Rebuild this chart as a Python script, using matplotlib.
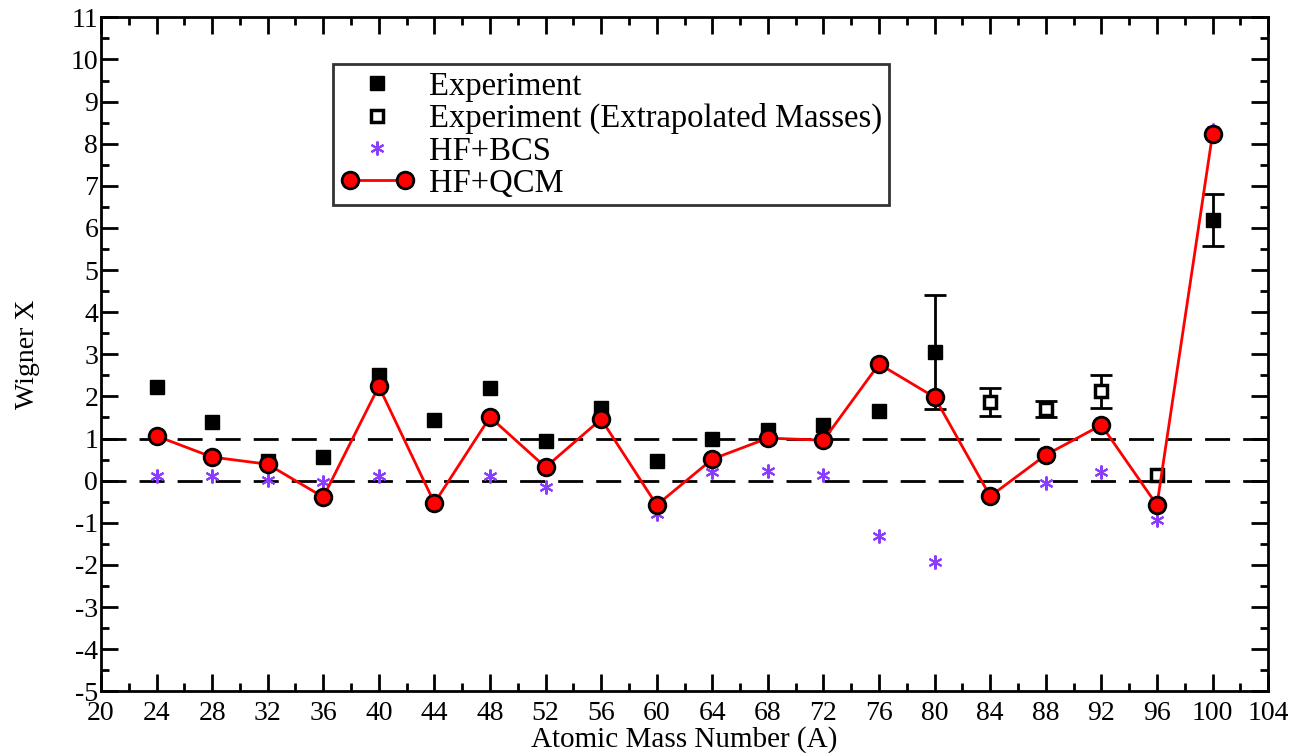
import numpy as np
import matplotlib.pyplot as plt
from matplotlib.legend_handler import HandlerLine2D

plt.rcParams['font.family'] = ['Liberation Serif', 'DejaVu Serif']
plt.rcParams['axes.unicode_minus'] = False

# data
A_exp = [24, 28, 32, 36, 40, 44, 48, 52, 56, 60, 64, 68, 72, 76, 80, 100]
X_exp = [2.22, 1.39, 0.46, 0.56, 2.51, 1.44, 2.20, 0.94, 1.72, 0.46, 0.99, 1.20, 1.32, 1.65, 3.05, 6.19]

# only the points that carry visible error bars
A_err = [80, 100]
X_err = [3.05, 6.19]
err_exp = [1.35, 0.62]

A_ext = [84, 88, 92, 96]
X_ext = [1.87, 1.70, 2.12, 0.13]
err_ext = [0.33, 0.20, 0.40]

A_th = [24, 28, 32, 36, 40, 44, 48, 52, 56, 60, 64, 68, 72, 76, 80, 84, 88, 92, 96, 100]
X_bcs = [0.10, 0.10, 0.01, -0.04, 0.10, -0.55, 0.10, -0.15, 1.50, -0.80, 0.20, 0.22, 0.13,
         -1.32, -1.94, -0.40, -0.06, 0.20, -0.94, 8.33]
X_qcm = [1.06, 0.56, 0.39, -0.39, 2.24, -0.53, 1.51, 0.32, 1.46, -0.58, 0.51, 1.01, 0.96,
         2.77, 1.98, -0.37, 0.61, 1.32, -0.58, 8.23]

fig = plt.figure(figsize=(12.94, 7.53), dpi=100)
ax = fig.add_axes([0.078, 0.082, 0.902, 0.895])

ax.axhline(0, color='black', lw=2, ls=(0, (9, 4.7)), zorder=1)
ax.axhline(1, color='black', lw=2, ls=(0, (9, 4.7)), zorder=1)

ax.errorbar(A_err, X_err, yerr=err_exp, fmt='none', ecolor='black', elinewidth=2,
            capsize=8, capthick=2, zorder=2)
ax.errorbar(A_ext[:3], X_ext[:3], yerr=err_ext, fmt='none', ecolor='black', elinewidth=2,
            capsize=8, capthick=2, zorder=2)

l_exp, = ax.plot(A_exp, X_exp, 's', color='black', ms=10, ls='none', zorder=3,
                 label='Experiment')
l_ext, = ax.plot(A_ext, X_ext, 's', mfc='white', mec='black', mew=2.5, ms=9, ls='none',
                 zorder=3, label='Experiment (Extrapolated Masses)')
l_bcs, = ax.plot(A_th, X_bcs, marker=(6, 2, 0), color='#8a3cff', ms=10, mew=1.5,
                 ls='none', zorder=3, label='HF+BCS')
l_qcm, = ax.plot(A_th, X_qcm, '-o', color='red', lw=2, mfc='red', mec='black', mew=2,
                 ms=12, zorder=4, label='HF+QCM')

ax.set_xlim(20, 104)
ax.set_ylim(-5, 11)
ax.set_xticks(np.arange(20, 105, 4))
ax.set_xticks(np.arange(20, 105, 2), minor=True)
ax.set_yticks(np.arange(-5, 12, 1))
ax.set_yticks(np.arange(-5, 11.1, 0.5), minor=True)
ax.tick_params(which='both', direction='in', top=True, right=True, width=2,
               labelsize=20, pad=2)
ax.tick_params(axis='x', which='major', pad=7)
ax.tick_params(which='major', length=12)
ax.tick_params(which='minor', length=6)
for s in ax.spines.values():
    s.set_linewidth(2)

ax.set_xlabel('Atomic Mass Number (A)', fontsize=21, labelpad=0)
ax.set_ylabel('Wigner X', fontsize=20, labelpad=22)

leg = ax.legend(handles=[l_exp, l_ext, l_bcs, l_qcm], loc='upper left',
                bbox_to_anchor=(0.199, 0.93), fontsize=23.5, frameon=True, fancybox=False,
                edgecolor='black', borderpad=0.2, labelspacing=0.05, handlelength=2.3,
                handletextpad=0.45, borderaxespad=0,
                handler_map={l_exp: HandlerLine2D(numpoints=1),
                             l_ext: HandlerLine2D(numpoints=1),
                             l_bcs: HandlerLine2D(numpoints=1),
                             l_qcm: HandlerLine2D(numpoints=2)})
leg.get_frame().set_linewidth(2)

plt.savefig('out.png', dpi=100)
